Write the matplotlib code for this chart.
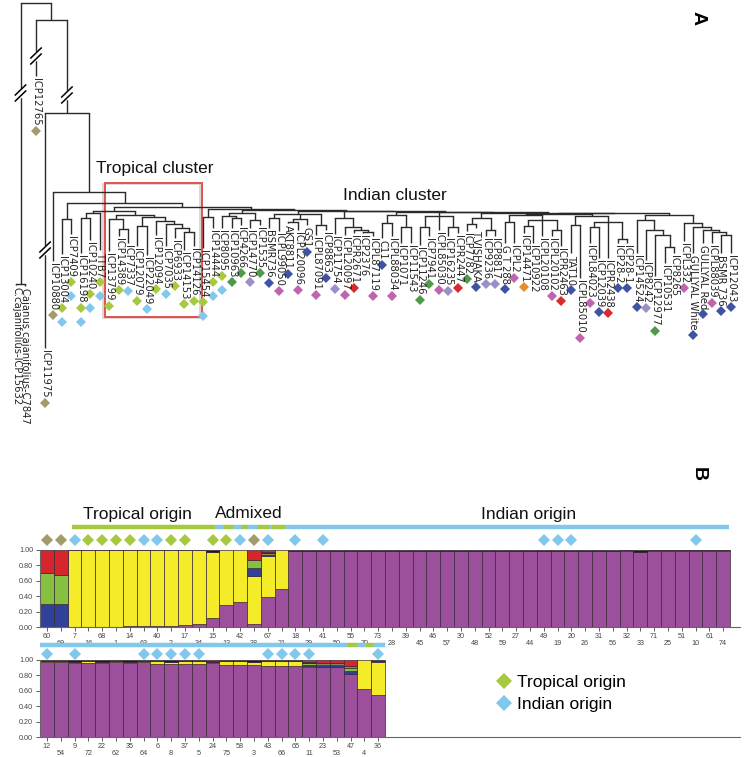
import numpy as np
import matplotlib
matplotlib.use("Agg")
import matplotlib.pyplot as plt
from matplotlib.lines import Line2D
from matplotlib.patches import Rectangle

plt.rcParams['font.family'] = ['Liberation Sans', 'DejaVu Sans']

# ------------------------------------------------------------------ Panel A data
leaf_names = ['ICP13004', 'ICP7409', 'ICP16198', 'ICP10240', 'TTB7', 'ICP13799', 'ICP14389',
              'ICP7337', 'ICP12079', 'ICP22049', 'ICP12094', 'ICP7035', 'ICP6933', 'ICP14153',
              'ICP14126', 'ICP15454', 'ICP14444', 'ICP8095', 'ICP10963', 'ICP4266', 'ICP14770',
              'ICP1535', 'BSMR736', 'ICPL99050', 'AKT8811', 'ICPL20096', 'GS1', 'ICPL87091',
              'ICP8863', 'ICP11754', 'ICPL20097', 'ICPR2671', 'ICP2376', 'ICPL87119', 'C11',
              'ICPL88034', 'ICP1071', 'ICP11543', 'ICP11246', 'ICP7941', 'ICPL85030', 'ICP16235',
              'ICPR2447', 'ICP7782', 'T.VISHAKA', 'ICP9236', 'ICP8817', 'G T 288', 'ICPL2',
              'ICP14471', 'ICP10922', 'ICPL20108', 'ICPL20102', 'ICPR2463', 'TAT10', 'ICPL85010',
              'ICPL84023', 'ICP12039', 'ICPR2438', 'ICP28-2', 'ICP28-1', 'ICP14524', 'ICP8242',
              'ICP12977', 'ICP10531', 'ICP8265', 'ICPL332', 'GULLYAL White', 'GULLYAL Red',
              'ICPL88039', 'BSMR 736', 'ICP12043']
leaf_top = [256, 236, 255, 242, 252, 253, 238, 245, 248, 257, 237, 248, 240, 252, 248, 250, 230,
            230, 230, 227, 230, 227, 230, 233, 225, 232, 227, 237, 232, 236, 237, 235, 235, 238,
            240, 238, 245, 245, 247, 238, 232, 238, 235, 233, 230, 238, 238, 245, 245, 235, 245,
            238, 238, 248, 255, 280, 245, 260, 260, 245, 245, 255, 262, 278, 265, 255, 243, 255,
            245, 245, 255, 255]
leaf_marks = ['GB', 'GB', 'GB', 'GB', 'GB', 'G', 'G', 'B', 'G', 'B', 'G', 'B', 'G', 'G', 'G', 'GB',
              'GB', 'GB', 'D', 'D', 'L', 'D', 'N', 'M', 'N', 'M', 'N', 'M', 'N', 'L', 'M', 'R', '',
              'M', 'N', 'M', '', '', 'D', 'D', 'M', 'L', 'R', 'D', 'N', 'L', 'L', 'N', 'M', 'O', '',
              '', 'M', 'R', 'N', 'M', 'M', 'N', 'R', 'N', 'N', 'N', 'L', 'D', '', '', 'M', 'N', 'N',
              'M', 'N', 'N']
out_names = ['C.cajanifolius-ICP15632', 'Cajanus cajanifolius-C7847', 'ICP12765', 'ICP11975',
             'ICP10880']
out_top = [287, 288, 78, 350, 263]
out_marks = ['', '', 'K', 'K', 'K']

mark_colors = {'K': '#a29c6c', 'G': '#a6c940', 'B': '#82c7ec', 'D': '#4f9a49', 'L': '#9a8fc6',
               'N': '#3f53a3', 'M': '#c064b0', 'R': '#d92b2d', 'O': '#e98a2d'}

# tree: (node depth, children...), leaves by name
G_a = (213, (216, 'ICP8095', (218, 'ICP10963', 'ICP4266')), (220, 'ICP14770', 'ICP1535'))
G_b = (214, (218, 'BSMR736', 'ICPL99050'), (219, (222, 'AKT8811', 'ICPL20096'), 'GS1'),
       (225, 'ICPL87091', 'ICP8863'))
G_c = (218, 'ICP11754', (227, 'ICPL20097', (230, 'ICPR2671', (232, 'ICP2376', 'ICPL87119'))))
G_d = (215, (223, 'C11', 'ICPL88034'), (227, 'ICP1071', 'ICP11543'))
G_e = (216, (227, 'ICP11246', 'ICP7941'), 'ICPL85030', (227, 'ICP16235', 'ICPR2447'))
G_f = (218, (224, 'ICP7782', 'T.VISHAKA'), (230, 'ICP9236', 'ICP8817'))
G_g = (215, (222, 'G T 288', 'ICPL2'),
       (220, (226, 'ICP14471', 'ICP10922'), 'ICPL20108', (230, 'ICPL20102', 'ICPR2463')))
G_h = (216, (225, 'TAT10', 'ICPL85010'),
       (222, (227, 'ICPL84023', 'ICP12039'), 'ICPR2438', (239, 'ICP28-2', 'ICP28-1')))
G_i = (220, 'ICP14524', (230, 'ICP8242', (235, 'ICP12977', (247, 'ICP10531', 'ICP8265'))))
G_j = (223, 'ICPL332', (227, 'GULLYAL White', (230, 'GULLYAL Red',
                                               (232, 'ICPL88039', (235, 'BSMR 736', 'ICP12043')))))
IR7 = (213, (214, G_g, G_h), (215, G_i, G_j))
IR6 = (212.5, G_f, IR7)
IR5 = (212, G_e, IR6)
IR4 = (211.5, G_d, IR5)
IR3 = (211, G_c, IR4)
IR2 = (210.5, G_b, IR3)
IndRest = (210, G_a, IR2)
IndAll = (209, (217, 'ICP15454', 'ICP14444'), IndRest)
trop_box = (215, (219, 'ICP13799', (229, 'ICP14389', 'ICP7337')),
            (217, (226, 'ICP12079', 'ICP22049'),
             (221, 'ICP12094', (224, 'ICP7035', (228, 'ICP6933', (232, 'ICP14153', 'ICP14126'))))))
TropAll = (211, (213, (218, 'ICP16198', 'ICP10240'), 'TTB7'), trop_box)
Rest = (207, TropAll, IndAll)
Main = (203, (219, 'ICP13004', 'ICP7409'), Rest)
tree = (3, (284, 'C.cajanifolius-ICP15632', 'Cajanus cajanifolius-C7847'),
        (20, 'ICP12765', (113, 'ICP11975', (192, 'ICP10880', Main))))

# ------------------------------------------------------------------ Panel B data
top_ids = [60, 69, 7, 16, 68, 1, 14, 63, 40, 2, 17, 34, 15, 13, 42, 38, 67, 21, 18, 29, 41, 50, 55,
           70, 73, 28, 39, 45, 46, 57, 30, 48, 52, 59, 27, 44, 49, 19, 20, 26, 31, 56, 32, 33, 71,
           25, 51, 10, 61, 74]
top_purple = [0, 0, 0, 0, 0, 0, .01, .01, .015, .015, .02, .04, .12, .29, .33, .04, .39, .49,
              .99, .99, .99, .99, .99, .99, .99, .99, .99, .99, .99, .99, .99, .99, .99, .99, .99,
              .99, .99, .99, .99, .99, .99, .99, .985, .975, .985, .985, .985, .985, .985, .985]
top_yellow = [0, 0, .995, .997, .997, .997, .985, .985, .98, .98, .975, .955, .85, .71, .67, .62,
              .53, .51] + [0] * 32
top_blue = [.30, .30] + [0] * 13 + [.10, .02] + [0] * 33
top_green = [.40, .38] + [0] * 13 + [.11] + [0] * 34
top_olive = [0] * 12 + [.01, 0, 0, 0, .02] + [0] * 25 + [.01, .005, .01, .01, .01, .01, .01, .01]
top_black = [0, 0, .005, .003, .003, .003, .005, .005, .005, .005, .005, .005, .02, 0, 0, 0, .02,
             0] + [.01] * 24 + [.005, .02, .005, .005, .005, .005, .005, .005]
top_red = [.30, .32] + [0] * 13 + [.13, .02] + [0] * 33

bot_ids = [12, 54, 9, 72, 22, 62, 35, 64, 6, 8, 37, 5, 24, 75, 58, 3, 43, 66, 65, 11, 23, 53, 47,
           4, 36]
bot_purple = [.975, .975, .96, .955, .965, .97, .965, .97, .95, .945, .95, .945, .955, .935, .93,
              .93, .925, .925, .92, .905, .905, .905, .82, .62, .54]
bot_yellow = [.01, .015, .01, .03, .005, .015, .005, .02, .04, .03, .04, .045, .015, .05, .06,
              .05, .065, .065, .07, .02, 0, 0, 0, .38, .44]
bot_blue = [0] * 19 + [.015, .03, .025, .04, 0, 0]
bot_green = [0] * 19 + [.02, 0, 0, .04, 0, 0]
bot_olive = [0] * 20 + [.025, .03, .02, 0, .01]
bot_black = [.015, .01, .03, .015, .03, .015, .03, .01, .01, .025, .01, .01, .015, .015, .01, .02,
             .01, .01, .01, .01, 0, 0, 0, 0, .01]
bot_red = [0] * 12 + [.015] + [0] * 6 + [.035, .04, .04, .08, 0, 0]

# origin bars (start bar, end bar, group) and origin diamonds (bar index, group)
top_origin = [(2.3, 12.68, 'T'), (12.68, 13.33, 'I'), (13.33, 14.0, 'T'), (14.0, 14.6, 'I'),
              (14.6, 15.1, 'T'), (15.1, 15.7, 'I'), (15.7, 16.6, 'T'), (16.6, 16.8, 'I'),
              (16.8, 17.75, 'T'), (17.75, 49.9, 'I')]
top_diam_idx = [0, 1, 2, 3, 4, 5, 6, 7, 8, 9, 10, 12, 13, 14, 15, 16, 18, 20, 36, 37, 38, 47]
top_diam_grp = ['K', 'K', 'B', 'G', 'G', 'G', 'G', 'B', 'B', 'G', 'G', 'G', 'G', 'B', 'K', 'B',
                'B', 'B', 'B', 'B', 'B', 'B']
bot_origin = [(0, 22.3, 'I'), (22.3, 23.0, 'T'), (23.0, 23.6, 'I'), (23.6, 24.2, 'T'),
              (24.2, 25.0, 'I')]
bot_diam_idx = [0, 2, 7, 8, 9, 10, 11, 16, 17, 18, 19, 24]
bot_diam_grp = ['B'] * 12

C_P, C_Y, C_N, C_G, C_O, C_K, C_R = ('#9c4f9b', '#f4ec28', '#2f4198', '#86c040', '#8a8a55',
                                     '#1a1a1a', '#d7262b')
LINE_T, LINE_I = '#a6c940', '#82c7ec'

# ------------------------------------------------------------------ figure
W, H = 745, 757
fig = plt.figure(figsize=(W / 100, H / 100), dpi=100)
fig.patch.set_facecolor('white')

SP = 9.42      # px per leaf
X0 = 62        # px of first leaf
axA = fig.add_axes([0, 0, 1, 1])
axA.set_xlim(-X0 / SP, (W - X0) / SP)
axA.set_ylim(H, 0)
axA.axis('off')
axA.patch.set_visible(False)

xpos = {n: i for i, n in enumerate(leaf_names)}
out_x = [-4.88, -3.93, -2.76, -1.80, -0.955]
for n, x in zip(out_names, out_x):
    xpos[n] = x
tops = dict(zip(leaf_names, leaf_top))
tops.update(dict(zip(out_names, out_top)))
marks = dict(zip(leaf_names, leaf_marks))
marks.update(dict(zip(out_names, out_marks)))

LC = '#2a2a2a'
LW = 1.0
node_x = {}


def draw(node):
    if isinstance(node, str):
        return xpos[node]
    h = node[0]
    kids = node[1:]
    xs = [draw(k) for k in kids]
    for k, xk in zip(kids, xs):
        yk = (tops[k] - 2) if isinstance(k, str) else k[0]
        axA.plot([xk, xk], [h, yk], color=LC, lw=LW, solid_capstyle='butt')
    axA.plot([min(xs), max(xs)], [h, h], color=LC, lw=LW, solid_capstyle='projecting')
    xm = (min(xs) + max(xs)) / 2
    node_x[h] = xm
    return xm


draw(tree)

# break marks
for bx, by in [(node_x[284], 93), (xpos['ICP12765'], 56), (node_x[113], 95),
               (xpos['ICP11975'], 250)]:
    axA.plot([bx, bx], [by - 3, by + 3], color='white', lw=2.5, zorder=3)
    for k in (-3, 3):
        axA.plot([bx - 0.55, bx + 0.55], [by + k + 5, by + k - 5], color='black', lw=1.1,
                 zorder=4)

# leaf labels
texts = []
for n in list(leaf_names) + list(out_names):
    t = axA.text(xpos[n], tops[n], n, rotation=-90, ha='center', va='top', fontsize=7.2,
                 family='DejaVu Sans', color='#222222')
    texts.append((t, n))

fig.canvas.draw()
rend = fig.canvas.get_renderer()
inv = axA.transData.inverted()
for t, n in texts:
    bb = t.get_window_extent(rend)
    yend = inv.transform((0, bb.y0))[1]
    for k, code in enumerate(marks[n]):
        axA.plot(xpos[n], yend + 5 + 14 * k, 'D', color=mark_colors[code], ms=5.4, mew=0)

# tropical cluster box
ix0 = xpos['ICP13799'] - 0.45
ix1 = xpos['ICP14126'] + 0.85
axA.add_patch(Rectangle((ix0 - 0.15, 184), ix1 - ix0, 134, fill=False, ec='#d8d0d0', lw=1.2))
axA.add_patch(Rectangle((ix0, 183), ix1 - ix0, 134, fill=False, ec='#e0534d', lw=1.4))
axA.text((96 - X0) / SP, 168, 'Tropical cluster', fontsize=12.5, ha='left', va='center',
         color='#111111')
axA.text((343 - X0) / SP, 196, 'Indian cluster', fontsize=12.5, ha='left', va='center',
         color='#111111')
axA.text((698 - X0) / SP, 18, 'A', fontsize=14, fontweight='bold', rotation=-90, ha='center',
         va='center')
axA.text((698 - X0) / SP, 474, 'B', fontsize=14, fontweight='bold', rotation=-90, ha='center',
         va='center')

# ------------------------------------------------------------------ Panel B
BW = 13.8
XL, XR = 40, 740


def structure(bottom_px, ids, comps, origin, d_idx, d_grp, line_px, diam_px):
    ax = fig.add_axes([XL / W, 1 - bottom_px / H, (XR - XL) / W, 77 / H])
    ax.patch.set_visible(False)
    n = len(ids)
    x = np.arange(n) + 0.5
    base = np.zeros(n)
    for vals, col in comps:
        v = np.array(vals, dtype=float)
        m = v > 0
        ax.bar(x[m], v[m], bottom=base[m], width=1.0, color=col, edgecolor='#3a2838', lw=0.5)
        base += v
    ax.set_xlim(0, (XR - XL) / BW)
    ax.set_ylim(0, 1)
    for s in ('top', 'right'):
        ax.spines[s].set_visible(False)
    for s in ('left', 'bottom'):
        ax.spines[s].set_color('#666666')
        ax.spines[s].set_linewidth(0.8)
    ax.set_yticks([0, .2, .4, .6, .8, 1.0])
    ax.set_yticklabels(['0.00', '0.20', '0.40', '0.60', '0.80', '1.00'])
    ax.tick_params(axis='y', length=3, width=0.6, labelsize=5.2, colors='#444444', pad=2)
    ax.set_xticks(x[0::2])
    ax.set_xticklabels([str(i) for i in ids[0::2]])
    ax.set_xticks(x[1::2], minor=True)
    ax.set_xticklabels([str(i) for i in ids[1::2]], minor=True)
    ax.tick_params(axis='x', which='major', length=3, width=0.6, pad=1, labelsize=5.2,
                   colors='#444444')
    ax.tick_params(axis='x', which='minor', length=3, width=0.6, pad=6.5, labelsize=5.2,
                   colors='#444444')
    px2y = lambda p: 1 + (bottom_px - 77 - p) / 77.0
    yl = px2y(line_px)
    for s, e, g in origin:
        ax.plot([s, e], [yl, yl], color=LINE_T if g == 'T' else LINE_I, lw=3.2,
                solid_capstyle='butt', clip_on=False)
    yd = px2y(diam_px)
    for i, g in zip(d_idx, d_grp):
        ax.plot(i + 0.5, yd, 'D', color=mark_colors[g], ms=6.2, mew=0, clip_on=False)
    return ax, px2y


comps_top = [(top_purple, C_P), (top_yellow, C_Y), (top_blue, C_N), (top_green, C_G),
             (top_olive, C_O), (top_black, C_K), (top_red, C_R)]
comps_bot = [(bot_purple, C_P), (bot_yellow, C_Y), (bot_blue, C_N), (bot_green, C_G),
             (bot_olive, C_O), (bot_black, C_K), (bot_red, C_R)]

axT, p2y = structure(627, top_ids, comps_top, top_origin, top_diam_idx, top_diam_grp, 527, 540)
for label, xc in [('Tropical origin', 137), ('Admixed', 249), ('Indian origin', 529)]:
    axT.text((xc - XL) / BW, p2y(514), label, ha='center', va='center', fontsize=12.5,
             color='#111111', clip_on=False)

structure(737, bot_ids, comps_bot, bot_origin, bot_diam_idx, bot_diam_grp, 645, 654)

handles = [Line2D([0], [0], marker='D', ls='', color=mark_colors['G'], ms=8, mew=0),
           Line2D([0], [0], marker='D', ls='', color=mark_colors['B'], ms=8, mew=0)]
fig.legend(handles, ['Tropical origin', 'Indian origin'], loc='upper left',
           bbox_to_anchor=(496 / W, 1 - 675 / H), frameon=False, fontsize=12.5,
           handlelength=0.9, handletextpad=0.3, labelspacing=0.4, borderpad=0,
           borderaxespad=0)

fig.savefig('out.png', dpi=100)
